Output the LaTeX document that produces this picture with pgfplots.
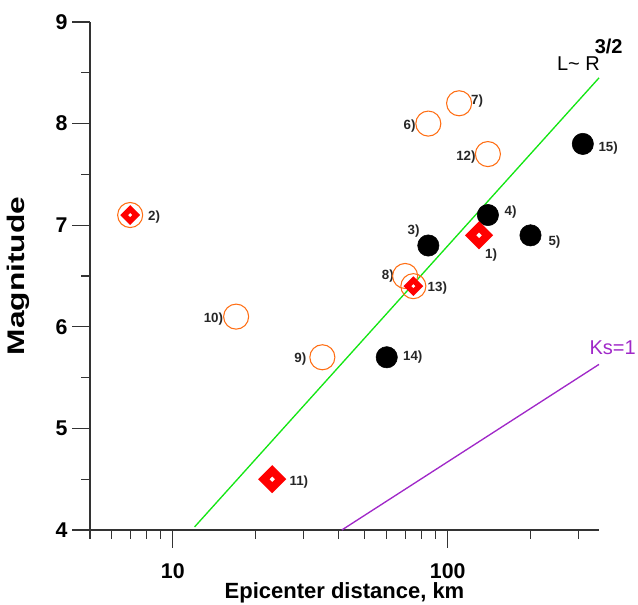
\documentclass[border=0pt]{standalone}
\usepackage{fontspec}
\setmainfont{Liberation Sans}
\usepackage{pgfplots}
\pgfplotsset{compat=1.18}
\definecolor{ring}{RGB}{255,110,20}
\definecolor{fitgreen}{RGB}{20,230,20}
\definecolor{kspurple}{RGB}{160,40,200}
\definecolor{quakered}{RGB}{255,0,0}

\begin{document}
\begin{tikzpicture}[lbl/.style={font=\fontsize{10}{12}\selectfont\bfseries, text=black!85, inner sep=0pt}]
\begin{axis}[
  at={(0,0)}, anchor=south west,
  scale only axis, width=381.75pt, height=381pt,
  xmode=log, xmin=5, xmax=355, ymin=4, ymax=9,
  axis lines*=left, axis line style={line width=0.8pt, black!80},
  tick align=outside, major tick length=13.5pt, minor tick length=6.5pt,
  tick style={line width=0.8pt, black!80},
  xtick={10,100}, xticklabels={10,100},
  minor xtick={5,6,7,8,9,20,30,40,50,60,70,80,90,200,300},
  ytick={4,5,6,7,8,9}, yticklabels={4,5,6,7,8,9},
  minor ytick={4.5,5.5,6.5,7.5,8.5},
  ticklabel style={font=\fontsize{16}{19}\selectfont\bfseries},
  xticklabel style={yshift=-8pt},
  xlabel={Epicenter distance, km}, ylabel={\scalebox{1.32}[1]{Magnitude}},
  xlabel style={font=\fontsize{16.5}{19}\selectfont\bfseries,
    at={(axis description cs:0.5,-0.124)}, anchor=center},
  ylabel style={font=\fontsize{18}{21}\selectfont\bfseries,
    at={(axis description cs:-0.1415,0.5)}, anchor=center},
  clip=false,
]
% L ~ R^{3/2} and Ks=1 lines
\addplot[fitgreen, line width=1pt, no markers] coordinates {(12,4.03) (355,8.45)};
\addplot[kspurple, line width=1pt, no markers] coordinates {(41.2,4) (355,5.63)};

% open circles
\addplot[only marks, mark=o, mark size=9.4pt, mark options={draw=ring, line width=0.8pt}]
  coordinates {(7,7.1) (85,8.0) (110,8.2) (140,7.7) (70,6.5) (75,6.4) (17,6.1) (35,5.7)};
% black dots
\addplot[only marks, mark=*, mark size=8pt, black]
  coordinates {(85,6.8) (140,7.1) (200,6.9) (60,5.7) (310,7.8)};
% red diamonds, large and small
\addplot[only marks, mark=square*, mark size=4.5pt,
  mark options={draw=quakered, fill=white, rotate=45, line width=5.9pt}]
  coordinates {(130,6.9) (23,4.5)};
\addplot[only marks, mark=square*, mark size=3.2pt,
  mark options={draw=quakered, fill=white, rotate=45, line width=4.1pt}]
  coordinates {(7,7.1) (75,6.4)};

\node[lbl, xshift=18pt, yshift=-1.5pt] at (axis cs:7,7.1) {2)};
\node[lbl, xshift=9pt, yshift=-15pt] at (axis cs:130,6.9) {1)};
\node[lbl, xshift=17pt, yshift=2pt] at (axis cs:140,7.1) {4)};
\node[lbl, xshift=-11pt, yshift=11pt] at (axis cs:85,6.8) {3)};
\node[lbl, xshift=18pt, yshift=-5pt] at (axis cs:200,6.9) {5)};
\node[lbl, xshift=19pt, yshift=-3pt] at (axis cs:310,7.8) {15)};
\node[lbl, xshift=-14pt, yshift=-1.5pt] at (axis cs:85,8.0) {6)};
\node[lbl, xshift=13.5pt, yshift=2pt] at (axis cs:110,8.2) {7)};
\node[lbl, xshift=-16.5pt, yshift=-2pt] at (axis cs:140,7.7) {12)};
\node[lbl, xshift=-13pt] at (axis cs:70,6.5) {8)};
\node[lbl, xshift=18pt, yshift=-1.5pt] at (axis cs:75,6.4) {13)};
\node[lbl, xshift=-17pt, yshift=-1.5pt] at (axis cs:17,6.1) {10)};
\node[lbl, xshift=-16.5pt, yshift=-1.5pt] at (axis cs:35,5.7) {9)};
\node[lbl, xshift=19.5pt] at (axis cs:60,5.7) {14)};
\node[lbl, xshift=20pt, yshift=-2pt] at (axis cs:23,4.5) {11)};

\node[text=kspurple, font=\fontsize{15}{18}\selectfont, inner sep=0pt] at (axis cs:398,5.79) {Ks=1};
\node[font=\fontsize{15}{18}\selectfont, inner sep=0pt] at (axis cs:299,8.59) {L\textasciitilde\ R};
\node[font=\fontsize{15}{18}\selectfont\bfseries, inner sep=0pt] at (axis cs:385,8.76) {3/2};
\end{axis}
\pgfresetboundingbox
\path[use as bounding box] (-67.5pt,-56.25pt) rectangle (411pt,397.5pt);
\end{tikzpicture}
\end{document}
